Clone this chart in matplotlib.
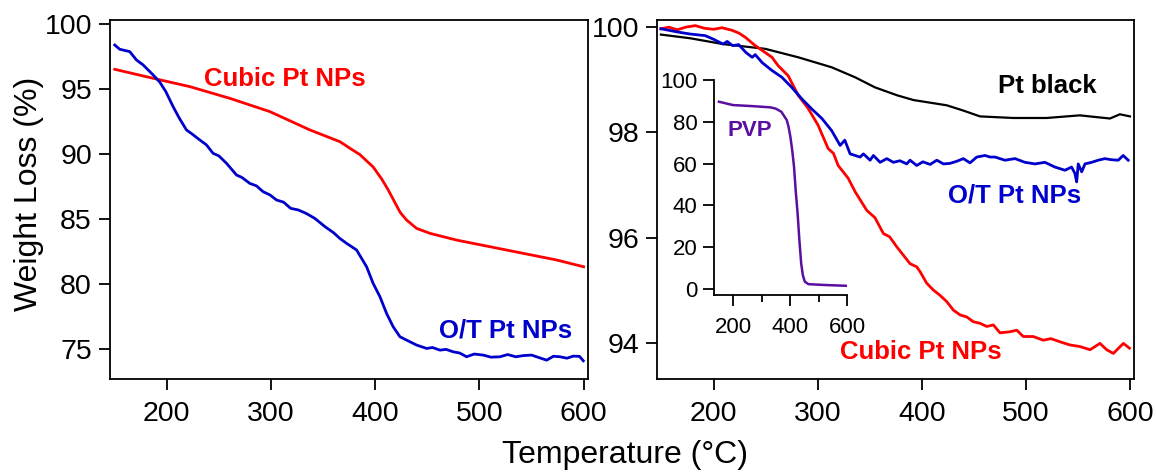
import numpy as np
import matplotlib
matplotlib.use("Agg")
import matplotlib.pyplot as plt

plt.rcParams['font.family'] = ['Liberation Sans', 'DejaVu Sans']

# ---- left panel: TGA of capped NPs ----
cubic_L_T = [150, 186.8, 222, 260.4, 298.8, 337.2, 366, 375.7, 385.3, 398, 406, 412,
             418, 424, 430.1, 439.7, 452.5, 478.1, 510.1, 542.1, 574.1, 600]
cubic_L_w = [96.51, 95.82, 95.18, 94.28, 93.26, 91.85, 90.95, 90.44, 89.95, 89.0, 88.1, 87.3,
             86.4, 85.5, 84.92, 84.28, 83.90, 83.38, 82.87, 82.36, 81.85, 81.33]

ot_L_T = [150, 154.8, 164.4, 170.8, 177.2, 186.8, 193, 199, 206, 212, 218.8, 224, 231.6, 238,
          244.4, 250, 257.3, 266.9, 272, 279.6, 286, 292.4, 299, 305.3, 312, 318.8, 326, 333.5,
          342, 351.8, 360, 366, 372.5, 382.1, 391.7, 398, 404.5, 410.9, 417.2, 423.7, 430.1,
          439.7, 449.3, 455, 462.1, 468, 474.9, 481, 487.7, 495, 503.7, 511, 519.7, 527, 535,
          542, 550, 557, 564.5, 571, 577.3, 584, 590, 596, 599.7]
ot_L_w = [98.38, 98.05, 97.87, 97.23, 96.85, 96.08, 95.55, 94.80, 93.64, 92.75, 91.85, 91.55,
          91.08, 90.70, 90.05, 89.85, 89.28, 88.38, 88.20, 87.74, 87.55, 87.10, 86.85, 86.46,
          86.30, 85.82, 85.70, 85.44, 85.05, 84.41, 83.95, 83.51, 83.13, 82.62, 81.33, 80.05,
          79.03, 77.74, 76.72, 75.95, 75.69, 75.31, 75.05, 75.12, 74.92, 74.98, 74.79, 74.70,
          74.41, 74.62, 74.54, 74.38, 74.41, 74.58, 74.41, 74.50, 74.54, 74.35, 74.15, 74.45,
          74.41, 74.30, 74.46, 74.44, 74.10]

# ---- right panel: after cleaning ----
black_T = [149.3, 177.5, 209, 249.5, 281.2, 313.4, 336, 355, 376.2, 391.9, 424, 439.9,
           455.9, 487.9, 520, 551.9, 566, 580.8, 590.3, 600]
black_w = [99.85, 99.78, 99.67, 99.58, 99.42, 99.23, 99.04, 98.85, 98.70, 98.61, 98.51, 98.41,
           98.30, 98.27, 98.27, 98.32, 98.29, 98.26, 98.34, 98.30]

ot_R_T = [149.3, 165, 177.5, 191.9, 200, 209, 213, 218.3, 224, 231, 237, 240, 246.5, 256,
          265.6, 275, 284.8, 294.3, 304, 313.4, 321.5, 326, 331.1, 340.7, 343.9, 350.3, 353.5,
          359.9, 366.3, 372.7, 379, 385.5, 388.7, 395.1, 401, 408, 414.4, 420.8, 427, 433.6,
          439.9, 446.3, 452.8, 460.7, 465.6, 470.3, 479.9, 489.5, 499.1, 508.7, 518.3, 527.9,
          537.5, 543.9, 547.1, 548.8, 550.3, 553.6, 556.8, 563.2, 569.5, 575.9, 582, 588.7,
          593.5, 598.3]
ot_R_w = [99.96, 99.90, 99.86, 99.83, 99.76, 99.67, 99.72, 99.64, 99.66, 99.51, 99.42, 99.47,
          99.32, 99.17, 99.04, 98.85, 98.63, 98.44, 98.26, 98.03, 97.75, 97.85, 97.59, 97.53,
          97.59, 97.47, 97.56, 97.43, 97.50, 97.43, 97.46, 97.40, 97.47, 97.37, 97.44, 97.39,
          97.47, 97.40, 97.41, 97.45, 97.50, 97.42, 97.53, 97.56, 97.53, 97.53, 97.47, 97.50,
          97.43, 97.40, 97.43, 97.34, 97.28, 97.34, 97.22, 97.06, 97.40, 97.25, 97.40, 97.43,
          97.47, 97.50, 97.48, 97.47, 97.56, 97.47]

cubic_R_T = [149.3, 157, 165, 173, 182.3, 191, 200, 208, 217.8, 224, 230.3, 240, 249.5, 256,
             262, 271.6, 281.2, 290.8, 300.4, 310, 315.1, 319.6, 329.2, 336, 347.1, 355,
             363.1, 369, 375.9, 382.3, 388.7, 395.1, 398.3, 404.7, 411.1, 417.5, 424, 430.3,
             436.7, 443.2, 449.5, 456, 462.4, 468.7, 475.1, 484.7, 491.2, 497.5, 507.1, 516.7,
             524, 532.8, 542.4, 552, 561.6, 571.2, 577.6, 584, 593.7, 599.5]
cubic_R_w = [99.96, 99.99, 99.94, 99.99, 100.02, 99.97, 99.95, 99.98, 99.93, 99.88, 99.80,
             99.64, 99.51, 99.42, 99.26, 99.07, 98.70, 98.45, 98.13, 97.69, 97.60, 97.37, 97.13,
             96.87, 96.52, 96.38, 96.08, 96.02, 95.83, 95.67, 95.51, 95.45, 95.36, 95.14, 95.01,
             94.91, 94.79, 94.63, 94.54, 94.50, 94.41, 94.38, 94.32, 94.35, 94.20, 94.22, 94.25,
             94.13, 94.13, 94.06, 94.09, 94.03, 93.97, 93.94, 93.88, 94.00, 93.88, 93.81, 94.00,
             93.91]

# ---- inset: PVP ----
pvp_T = [150.6, 200, 268, 331.6, 350, 369.6, 388.6, 395, 401.3, 408, 414, 420, 426.6, 433,
         439.2, 445, 451.9, 464.6, 521.5, 600]
pvp_w = [89.6, 88.0, 87.5, 86.9, 86.3, 84.8, 80.8, 77.5, 72.8, 66.0, 58.5, 47.0, 36.1, 23.0,
         12.1, 6.5, 3.4, 2.2, 1.8, 1.4]

RED = '#ff0000'
BLUE = '#0000cc'
PURPLE = '#5a0fa0'

fig = plt.figure(figsize=(11.56, 4.73), dpi=100)
axL = fig.add_axes([0.0952, 0.1987, 0.4131, 0.759])
axR = fig.add_axes([0.5683, 0.1987, 0.4126, 0.759])

for ax in (axL, axR):
    for sp in ax.spines.values():
        sp.set_linewidth(1.3)
    ax.tick_params(direction='out', length=8, width=1.3, labelsize=20.5, pad=5,
                   top=False, right=False)
    ax.tick_params(axis='x', pad=8)
    ax.set_xlim(145.5, 603.8)
    ax.set_xticks([200, 300, 400, 500, 600])

axL.plot(cubic_L_T, cubic_L_w, color=RED, lw=2.0)
axL.plot(ot_L_T, ot_L_w, color=BLUE, lw=2.0)
axL.set_ylim(72.7, 100.3)
axL.set_yticks([75, 80, 85, 90, 95, 100])
axL.text(236, 95.8, 'Cubic Pt NPs', color=RED, fontsize=18.5, fontweight='bold', va='center')
axL.text(461, 76.45, 'O/T Pt NPs', color=BLUE, fontsize=18.5, fontweight='bold', va='center')

axR.plot(black_T, black_w, color='black', lw=1.6)
axR.plot(cubic_R_T, cubic_R_w, color=RED, lw=2.0)
axR.plot(ot_R_T, ot_R_w, color=BLUE, lw=2.0)
axR.set_ylim(93.325, 100.126)
axR.set_yticks([94, 96, 98, 100])
axR.text(473, 98.88, 'Pt black', color='black', fontsize=18.5, fontweight='bold', va='center')
axR.text(425, 96.80, 'O/T Pt NPs', color=BLUE, fontsize=18.5, fontweight='bold', va='center')
axR.text(321.5, 93.84, 'Cubic Pt NPs', color=RED, fontsize=18.5, fontweight='bold', va='center')

axI = fig.add_axes([0.6176, 0.3763, 0.1151, 0.4545])
axI.patch.set_alpha(0)
axI.plot(pvp_T, pvp_w, color=PURPLE, lw=1.8)
axI.set_xlim(133, 600)
axI.set_ylim(-3, 100)
axI.spines['top'].set_visible(False)
axI.spines['right'].set_visible(False)
for sp in ('left', 'bottom'):
    axI.spines[sp].set_linewidth(1.3)
axI.set_xticks([200, 400, 600])
axI.set_xticks([300, 500], minor=True)
axI.set_yticks([0, 20, 40, 60, 80, 100])
axI.tick_params(direction='out', length=8, width=1.3, labelsize=16, pad=4)
axI.tick_params(axis='x', pad=8)
axI.tick_params(which='minor', direction='out', length=5, width=1.3)
axI.text(179.7, 75.6, 'PVP', color=PURPLE, fontsize=16, fontweight='bold', va='center')

fig.text(0.541, 0.038, 'Temperature (\u00b0C)', fontsize=23, ha='center', va='center')
fig.text(0.025, 0.59, 'Weight Loss (%)', fontsize=23, ha='center', va='center', rotation=90)

fig.savefig('out.png', dpi=100)
